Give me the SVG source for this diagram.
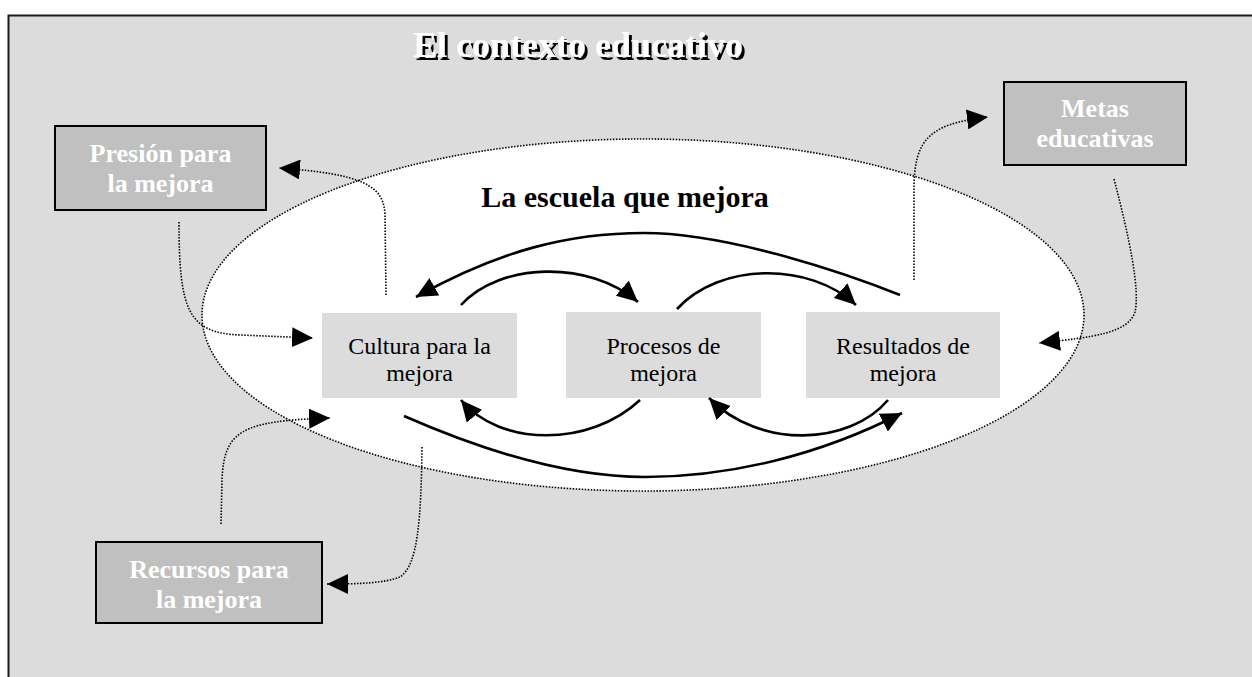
<svg xmlns="http://www.w3.org/2000/svg" width="1252" height="677" viewBox="0 0 1252 677">
<style>
.frame{fill:#dcdcdc;stroke:#1a1a1a;stroke-width:2}
.dark{fill:#c0c0c0;stroke:#000;stroke-width:2}
.light{fill:#dcdcdc;stroke:none}
.wt{font-family:"Liberation Serif","Times New Roman",serif;font-weight:bold;font-size:26px;fill:#fff;text-anchor:middle}
.bt{font-family:"Liberation Serif","Times New Roman",serif;font-size:24px;fill:#000;text-anchor:middle}
.ttl{font-family:"Liberation Serif","Times New Roman",serif;font-weight:bold;font-size:36px;fill:#fff}
.dot{fill:none;stroke:#000;stroke-width:1.6;stroke-dasharray:1.5 1.5}
.sol{fill:none;stroke:#000;stroke-width:2.6}
</style>
<defs>
<marker id="ah" markerUnits="userSpaceOnUse" markerWidth="22" markerHeight="20" refX="21" refY="10" orient="auto" viewBox="0 0 22 20">
<path d="M0,0 L21,10 L0,20 z" fill="#000"/>
</marker>
<filter id="sh" x="-5%" y="-20%" width="110%" height="140%">
<feOffset in="SourceAlpha" dx="3" dy="3" result="o"/>
<feMerge><feMergeNode in="o"/><feMergeNode in="SourceGraphic"/></feMerge>
</filter>
</defs>
<rect class="frame" x="8.5" y="15.5" width="1260" height="700"/>
<g id="title">
<text class="ttl" x="413" y="57" filter="url(#sh)">El contexto educativo</text>
</g>
<g id="escuela">
<ellipse cx="643" cy="315" rx="441" ry="176" fill="#fff" stroke="#000" stroke-width="1.6" stroke-dasharray="1.5 1.5"/>
<text x="625" y="207" font-family="Liberation Serif, Times New Roman, serif" font-weight="bold" font-size="30" text-anchor="middle">La escuela que mejora</text>
</g>
<g id="presion">
<rect class="dark" x="55" y="126" width="211" height="84"/>
<text class="wt" x="160.5" y="162">Presión para</text>
<text class="wt" x="160.5" y="192">la mejora</text>
</g>
<g id="metas">
<rect class="dark" x="1004" y="82" width="182" height="83"/>
<text class="wt" x="1095" y="117">Metas</text>
<text class="wt" x="1095" y="147">educativas</text>
</g>
<g id="recursos">
<rect class="dark" x="96" y="542" width="226" height="81"/>
<text class="wt" x="209" y="578">Recursos para</text>
<text class="wt" x="209" y="608">la mejora</text>
</g>
<g id="cultura">
<rect class="light" x="322" y="313" width="195" height="85"/>
<text class="bt" x="419.5" y="354">Cultura para la</text>
<text class="bt" x="419.5" y="381">mejora</text>
</g>
<g id="procesos">
<rect class="light" x="566" y="312" width="195" height="86"/>
<text class="bt" x="663.5" y="354">Procesos de</text>
<text class="bt" x="663.5" y="381">mejora</text>
</g>
<g id="resultados">
<rect class="light" x="806" y="312" width="194" height="86"/>
<text class="bt" x="903" y="354">Resultados de</text>
<text class="bt" x="903" y="381">mejora</text>
</g>
<g id="connectors">
<path class="dot" marker-end="url(#ah)" d="M179,222 C179,310 188,333 240,335 L313,338"/>
<path class="dot" marker-end="url(#ah)" d="M386,295 L385,215 C384,185 362,174 279,168"/>
<path class="dot" marker-end="url(#ah)" d="M1114,179 C1130,240 1140,290 1135,312 C1128,333 1095,337 1039,343"/>
<path class="dot" marker-end="url(#ah)" d="M914,280 L914,190 C914,140 928,124 988,117"/>
<path class="dot" marker-end="url(#ah)" d="M221,524 L222,480 C224,430 242,421 330,418"/>
<path class="dot" marker-end="url(#ah)" d="M422,447 C421,520 418,565 400,577 C385,583 360,584 327,584"/>
<path class="sol" marker-end="url(#ah)" d="M900,295 C850,275 730,233 644,233 C570,233 500,250 416,297"/>
<path class="sol" marker-end="url(#ah)" d="M461,305 C500,262 590,260 638,302"/>
<path class="sol" marker-end="url(#ah)" d="M677,309 C720,262 810,262 856,305"/>
<path class="sol" marker-end="url(#ah)" d="M640,400 C590,447 500,447 461,400"/>
<path class="sol" marker-end="url(#ah)" d="M888,400 C850,445 760,450 709,398"/>
<path class="sol" marker-end="url(#ah)" d="M404,416 C470,445 560,477 645,477 C730,477 820,455 902,413"/>
</g>
</svg>
